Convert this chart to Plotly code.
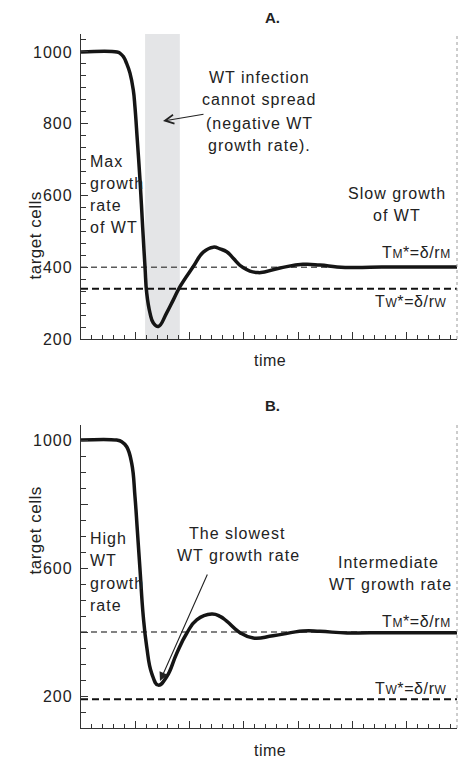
import plotly.graph_objects as go

# ---- data -------------------------------------------------------------
# time in arbitrary units, target-cell counts for the two scenarios
time_a = [0.00, 0.663, 0.72, 0.779, 0.84, 0.902, 0.963, 0.994, 1.037, 1.087,
          1.136, 1.179, 1.210, 1.271, 1.331, 1.424, 1.578, 1.700, 1.823, 2.068,
          2.252, 2.436, 2.560, 2.683, 2.799, 2.983, 3.260, 3.665, 4.088, 4.401,
          4.715, 5.009, 5.322, 5.930, 6.924]
cells_a = [1000, 1000, 996, 987, 968, 941, 894, 846, 754, 642,
           510, 400, 328, 272, 245, 235, 273, 309, 346, 402,
           442, 456, 451, 443, 426, 399, 385, 398, 408, 406,
           401, 399, 400, 401, 401]

time_b = [0.00, 0.657, 0.75, 0.842, 0.934, 0.994, 1.037, 1.087, 1.147, 1.210,
          1.302, 1.424, 1.578, 1.762, 1.947, 2.131, 2.407, 2.560, 2.683, 2.928,
          3.173, 3.536, 4.088, 4.401, 4.899, 5.322, 6.924]
cells_b = [1000, 1000, 995, 979, 927, 823, 719, 594, 448, 354,
           271, 234, 260, 333, 396, 438, 456, 449, 434, 398,
           381, 388, 403, 402, 397, 398, 398]

# equilibrium levels T* = delta / r for mutant (M) and wild type (W)
t_m_a, t_w_a = 400, 340
t_m_b, t_w_b = 400, 190

# window where WT infection cannot spread (panel A)
no_spread = [1.18, 1.82]

ticks_a = [200, 400, 600, 800, 1000]
ticktext_a = ["200", "400", "600", "800", "1000"]
ticks_b = [200, 400, 600, 800, 1000]
ticktext_b = ["200", "", "600", "", "1000"]

# ---- layout helpers ---------------------------------------------------
W, H = 458, 758
FONT = "Liberation Sans, Arial, Helvetica, sans-serif"
INK = "#222222"
AXIS = "#333333"


def px(x):
    return x / W


def py(y):
    return 1 - y / H


def sp(t, ls=1.0):
    return f'<span style="letter-spacing:{ls}px">{t}</span>'


def eq(sym):
    small = f'<span style="font-size:12px">{sym}</span>'
    return sp(f"T{small}*=δ/r{small}", 0.6)


XDOM = [px(81), px(457)]
YDOM_A = [py(339), py(34)]
YDOM_B = [py(728), py(425)]
XRANGE = [0, 6.924]

fig = go.Figure()

curve = dict(color="#151515", width=3.5, shape="spline", smoothing=1.3)
fig.add_trace(go.Scatter(x=time_a, y=cells_a, mode="lines", line=curve,
                         xaxis="x", yaxis="y", hoverinfo="skip",
                         showlegend=False))
fig.add_trace(go.Scatter(x=time_b, y=cells_b, mode="lines", line=curve,
                         xaxis="x2", yaxis="y2", hoverinfo="skip",
                         showlegend=False))

xcommon = dict(range=XRANGE, dtick=1, tick0=0, ticks="inside", ticklen=7,
               tickwidth=1, tickcolor=AXIS, showticklabels=False,
               showline=True, linecolor=AXIS, linewidth=1.3, showgrid=False,
               zeroline=False, automargin=False,
               minor=dict(ticks="inside", ticklen=4, dtick=0.2, tick0=0,
                          tickcolor=AXIS, tickwidth=1, showgrid=False))


def yleft(rng, dom, anchor, vals, text, minor_step):
    return dict(domain=dom, anchor=anchor, range=rng, tickmode="array",
                tickvals=vals, ticktext=[sp(t) for t in text],
                ticks="inside", ticklen=7, tickwidth=1, tickcolor=AXIS,
                showline=True, linecolor=AXIS, linewidth=1.3,
                showgrid=False, zeroline=False, ticklabelstandoff=4,
                automargin=False,
                tickfont=dict(family=FONT, size=16, color=INK),
                minor=dict(ticks="inside", ticklen=5, dtick=minor_step,
                           tick0=200, tickcolor=AXIS, tickwidth=1,
                           showgrid=False))


def yright(rng, over, anchor, step):
    return dict(overlaying=over, anchor=anchor, side="right", range=rng,
                dtick=step, tick0=0, ticks="inside", ticklen=5, tickwidth=1,
                tickcolor="#555555", showticklabels=False, showline=False,
                showgrid=False, zeroline=False, automargin=False)


fig.update_layout(
    template="none",
    width=W, height=H, margin=dict(l=0, r=0, t=0, b=0, pad=0),
    paper_bgcolor="white", plot_bgcolor="white", showlegend=False,
    font=dict(family=FONT, size=16, color=INK),
    xaxis=dict(domain=XDOM, anchor="y", **xcommon),
    xaxis3=dict(overlaying="x", anchor="y", side="top", **xcommon),
    yaxis=yleft([200, 1050], YDOM_A, "x", ticks_a, ticktext_a, 200 / 6),
    yaxis3=yright([200, 1050], "y", "x", 100),
    xaxis2=dict(domain=XDOM, anchor="y2", **xcommon),
    xaxis4=dict(overlaying="x2", anchor="y2", side="top", **xcommon),
    yaxis2=yleft([100, 1047], YDOM_B, "x2", ticks_b, ticktext_b, 50),
    yaxis4=yright([100, 1047], "y2", "x2", 200),
)

# shaded window, dashed equilibrium lines, dotted right frame
fig.add_shape(type="rect", xref="x", yref="y domain", x0=no_spread[0],
              x1=no_spread[1], y0=0, y1=1, fillcolor="#e4e5e7",
              line=dict(width=0), layer="below")
for xr, yr, tm, tw in (("x", "y", t_m_a, t_w_a), ("x2", "y2", t_m_b, t_w_b)):
    fig.add_shape(type="line", xref=f"{xr} domain", yref=yr, x0=0, x1=1,
                  y0=tm, y1=tm, layer="below",
                  line=dict(color="#5a5a5a", width=1.4, dash="6px,4px"))
    fig.add_shape(type="line", xref=f"{xr} domain", yref=yr, x0=0, x1=1,
                  y0=tw, y1=tw, layer="below",
                  line=dict(color="#111111", width=2, dash="7px,4px"))
    fig.add_shape(type="line", xref=f"{xr} domain", yref=f"{yr} domain",
                  x0=1, x1=1, y0=0, y1=1,
                  line=dict(color="#9a9a9a", width=1, dash="dot"))


def label(text, x, y, anchor="center", size=16, bold=False, ls=1.0):
    t = sp(text, ls)
    if bold:
        t = f"<b>{t}</b>"
    fig.add_annotation(text=t, x=px(x), y=py(y), xref="paper", yref="paper",
                       xanchor=anchor, yanchor="middle", showarrow=False,
                       font=dict(family=FONT, size=size, color=INK))


def arrow(head, tail, size, style=5):
    fig.add_annotation(text="", x=px(head[0]), y=py(head[1]), xref="paper",
                       yref="paper", ax=tail[0] - head[0],
                       ay=tail[1] - head[1], showarrow=True, arrowhead=style,
                       arrowsize=size, arrowwidth=1.1, arrowcolor="#222222")


# ---- panel A ----------------------------------------------------------
label("A.", 272, 17, size=15, bold=True, ls=0)
for i, line in enumerate(["WT infection", "cannot spread",
                          "(negative WT", "growth rate)."]):
    label(line, 259, 77 + i * 23)
for i, line in enumerate(["Max", "growth", "rate", "of WT"]):
    label(line, 88, 161 + i * 22, anchor="left")
label("Slow growth", 397, 194)
label("of WT", 397, 215)
fig.add_annotation(text=eq("M"), x=px(453), y=py(252), xref="paper",
                   yref="paper", xanchor="right", yanchor="middle",
                   showarrow=False, font=dict(family=FONT, size=16, color=INK))
fig.add_annotation(text=eq("W"), x=px(449), y=py(301), xref="paper",
                   yref="paper", xanchor="right", yanchor="middle",
                   showarrow=False, font=dict(family=FONT, size=16, color=INK))
arrow((163, 121), (205, 114), 1.6)
label("time", 270, 360, size=16, ls=0.5)
fig.add_annotation(text=sp("target cells", 0.5), x=px(23), y=py(190),
                   xref="paper", yref="paper", textangle=-90,
                   showarrow=False, font=dict(family=FONT, size=17, color=INK))

# ---- panel B ----------------------------------------------------------
label("B.", 272, 405, size=15, bold=True, ls=0)
for i, line in enumerate(["High", "WT", "growth", "rate"]):
    label(line, 88, 538 + i * 22.5, anchor="left")
label("The slowest", 237, 533)
label("WT growth rate", 238, 555)
label("Intermediate", 388, 562)
label("WT growth rate", 390, 584)
fig.add_annotation(text=eq("M"), x=px(453), y=py(621), xref="paper",
                   yref="paper", xanchor="right", yanchor="middle",
                   showarrow=False, font=dict(family=FONT, size=16, color=INK))
fig.add_annotation(text=eq("W"), x=px(449), y=py(688), xref="paper",
                   yref="paper", xanchor="right", yanchor="middle",
                   showarrow=False, font=dict(family=FONT, size=16, color=INK))
arrow((160, 681), (208, 573), 1.6, style=2)
label("time", 270, 750, size=16, ls=0.5)
fig.add_annotation(text=sp("target cells", 0.5), x=px(23), y=py(577),
                   xref="paper", yref="paper", textangle=-90,
                   showarrow=False, font=dict(family=FONT, size=17, color=INK))

fig.write_html("out.html")
